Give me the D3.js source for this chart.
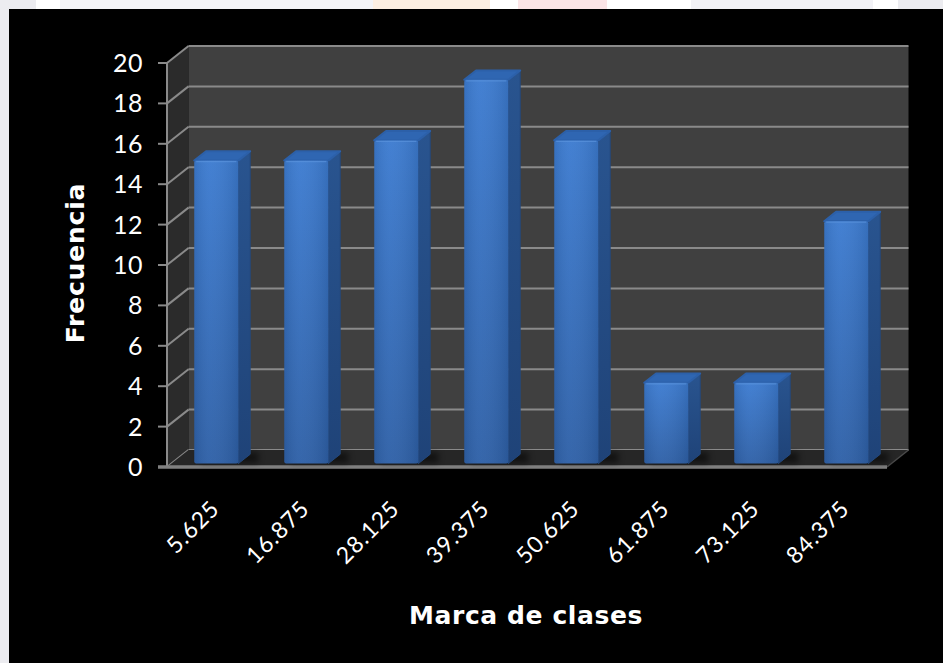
<!DOCTYPE html>
<html>
<head>
<meta charset="utf-8">
<script src="https://cdn.jsdelivr.net/npm/d3@7"></script>
<style>
  html, body { margin: 0; padding: 0; background: #000; }
  svg { display: block; }
</style>
</head>
<body>
<svg id="chart" width="943" height="663"></svg>
<script>
// Class marks and their frequencies
const categories = ["5.625", "16.875", "28.125", "39.375", "50.625", "61.875", "73.125", "84.375"];
const frequencies = [15, 15, 16, 19, 16, 4, 4, 12];
const yTicks = [0, 2, 4, 6, 8, 10, 12, 14, 16, 18, 20];
const yTitle = "Frecuencia";
const xTitle = "Marca de clases";

const W = 943, H = 663;
const svg = d3.select("#chart");
const font = "Lato, 'Noto Sans', sans-serif";
const titleFont = "'DejaVu Sans', sans-serif";

// page strip behind the chart
const strip = svg.append("g");
strip.append("rect").attr("x", 0).attr("y", 0).attr("width", W).attr("height", H).attr("fill", "#ececf0");
[[36, 60, "#ffffff"], [60, 373, "#f4f4f7"], [373, 490, "#fdefe2"], [490, 518, "#ffffff"],
 [518, 607, "#fbe4e6"], [607, 691, "#ffffff"], [691, 873, "#f2f2f6"], [873, 898, "#ffffff"]]
  .forEach(([a, b, c]) => strip.append("rect").attr("x", a).attr("y", 0).attr("width", b - a).attr("height", 9).attr("fill", c));
svg.append("rect").attr("x", 9).attr("y", 9).attr("width", W - 9).attr("height", H - 9).attr("fill", "#000");

// plot geometry (front plane + oblique depth)
const x0 = 167, x1 = 887;
const depth = { dx: 21.5, dy: -17 };
const x = d3.scaleBand().domain(categories).range([x0, x1]).paddingInner(0.51).paddingOuter(0.255);
const y = d3.scaleLinear().domain([0, 20]).range([467, 63]);

const defs = svg.append("defs");
const gFront = defs.append("linearGradient").attr("id", "gFront").attr("x1", 0).attr("y1", 0).attr("x2", 0).attr("y2", 1);
gFront.append("stop").attr("offset", "0%").attr("stop-color", "#3c7bd0");
gFront.append("stop").attr("offset", "100%").attr("stop-color", "#2e60a7");
const gFrontH = defs.append("linearGradient").attr("id", "gFrontH").attr("x1", 0).attr("y1", 0).attr("x2", 1).attr("y2", 0);
gFrontH.append("stop").attr("offset", "0%").attr("stop-color", "#000").attr("stop-opacity", 0.08);
gFrontH.append("stop").attr("offset", "35%").attr("stop-color", "#fff").attr("stop-opacity", 0.04);
gFrontH.append("stop").attr("offset", "100%").attr("stop-color", "#000").attr("stop-opacity", 0.1);
const gSide = defs.append("linearGradient").attr("id", "gSide").attr("x1", 0).attr("y1", 0).attr("x2", 0).attr("y2", 1);
gSide.append("stop").attr("offset", "0%").attr("stop-color", "#29548f");
gSide.append("stop").attr("offset", "100%").attr("stop-color", "#1f4378");
const blur = defs.append("filter").attr("id", "soft").attr("x", "-20%").attr("y", "-50%").attr("width", "140%").attr("height", "200%");
blur.append("feGaussianBlur").attr("stdDeviation", 3);

const bx = x0 + depth.dx, by0 = y(0) + depth.dy;
const pt = (px, py) => px + "," + py;

// left side wall
svg.append("polygon")
  .attr("points", [pt(x0, y(0)), pt(x0, y(20)), pt(x0 + depth.dx, y(20) + depth.dy), pt(x0 + depth.dx, y(0) + depth.dy)].join(" "))
  .attr("fill", "#2b2b2b");
// back wall
svg.append("rect").attr("x", bx).attr("y", y(20) + depth.dy)
  .attr("width", x1 - x0).attr("height", y(0) - y(20)).attr("fill", "#404040");

// gridlines on back and side walls
const grid = svg.append("g").attr("stroke", "#8a8a8a").attr("stroke-width", 2).attr("fill", "none");
yTicks.forEach(v => {
  grid.append("line").attr("x1", bx).attr("x2", x1 + depth.dx).attr("y1", y(v) + depth.dy).attr("y2", y(v) + depth.dy);
  grid.append("line").attr("x1", x0).attr("x2", bx).attr("y1", y(v)).attr("y2", y(v) + depth.dy);
});

// floor
svg.append("polygon")
  .attr("points", [pt(x0, y(0)), pt(x1, y(0)), pt(x1 + depth.dx, by0), pt(bx, by0)].join(" "))
  .attr("fill", "#262626");
svg.append("line").attr("x1", x1).attr("y1", y(0)).attr("x2", x1 + depth.dx).attr("y2", by0)
  .attr("stroke", "#4a4a4a").attr("stroke-width", 1.5);

// y axis: front line, ticks, labels
const axis = svg.append("g").attr("stroke", "#8a8a8a").attr("stroke-width", 2);
axis.append("line").attr("x1", x0).attr("x2", x0).attr("y1", y(20)).attr("y2", y(0));
yTicks.forEach(v => axis.append("line").attr("x1", x0 - 9).attr("x2", x0).attr("y1", y(v)).attr("y2", y(v)));
svg.append("line").attr("x1", x0 - 9).attr("x2", x1).attr("y1", y(0)).attr("y2", y(0))
  .attr("stroke", "#808080").attr("stroke-width", 3.5);

svg.append("g").selectAll("text").data(yTicks).join("text")
  .attr("x", 143).attr("y", d => y(d)).attr("dy", "0.36em")
  .attr("text-anchor", "end").attr("fill", "#fff")
  .attr("font-family", font).attr("font-size", 25).attr("letter-spacing", 0.5)
  .text(d => d);

// bars: front face sits at 20% of the depth, back at 75%
const t0 = 0.2, t1 = 0.75;
const fo = { dx: depth.dx * t0, dy: depth.dy * t0 };
const bd = { dx: depth.dx * (t1 - t0), dy: depth.dy * (t1 - t0) };
const bw = x.bandwidth();

const bars = svg.append("g").selectAll("g").data(categories.map((c, i) => ({ c, v: frequencies[i] }))).join("g");
// shadows on the floor
bars.append("rect")
  .attr("x", d => x(d.c) + fo.dx + 6).attr("y", y(0) + depth.dy * 0.85)
  .attr("width", bw + 14).attr("height", 10)
  .attr("fill", "#000").attr("opacity", 0.55).attr("filter", "url(#soft)");
bars.each(function (d) {
  const g = d3.select(this);
  const L = x(d.c) + fo.dx, R = L + bw;
  const T = y(d.v) + fo.dy, B = y(0) + fo.dy;
  // side face
  g.append("polygon")
    .attr("points", [pt(R, T), pt(R + bd.dx, T + bd.dy), pt(R + bd.dx, B + bd.dy), pt(R, B)].join(" "))
    .attr("fill", "url(#gSide)").attr("stroke", "#23497f").attr("stroke-width", 1).attr("stroke-linejoin", "round");
  // top face
  g.append("polygon")
    .attr("points", [pt(L, T), pt(L + bd.dx, T + bd.dy), pt(R + bd.dx, T + bd.dy), pt(R, T)].join(" "))
    .attr("fill", "#2f66b2").attr("stroke", "#2c60a9").attr("stroke-width", 2).attr("stroke-linejoin", "round");
  // front face
  g.append("rect").attr("x", L).attr("y", T).attr("width", bw).attr("height", B - T)
    .attr("rx", 2).attr("fill", "url(#gFront)");
  g.append("rect").attr("x", L).attr("y", T).attr("width", bw).attr("height", B - T)
    .attr("rx", 2).attr("fill", "url(#gFrontH)");
  g.append("line").attr("x1", L + 2).attr("x2", R - 2).attr("y1", T + 1).attr("y2", T + 1)
    .attr("stroke", "#5a93dd").attr("stroke-width", 1.2).attr("opacity", 0.7);
});

// category labels
svg.append("g").selectAll("text").data(categories).join("text")
  .attr("transform", d => `translate(${x(d) + bw / 2 + 9},${510}) rotate(-45)`)
  .attr("text-anchor", "end").attr("fill", "#fff")
  .attr("font-family", font).attr("font-size", 23).attr("letter-spacing", 1)
  .text(d => d);

// axis titles
svg.append("text")
  .attr("transform", `translate(84,263) rotate(-90)`)
  .attr("text-anchor", "middle").attr("fill", "#fff")
  .attr("font-family", titleFont).attr("font-weight", "bold").attr("font-size", 25)
  .attr("letter-spacing", 0.8)
  .text(yTitle);
svg.append("text")
  .attr("x", 526).attr("y", 624)
  .attr("text-anchor", "middle").attr("fill", "#fff")
  .attr("font-family", titleFont).attr("font-weight", "bold").attr("font-size", 25)
  .attr("letter-spacing", 0.6)
  .text(xTitle);
</script>
</body>
</html>
